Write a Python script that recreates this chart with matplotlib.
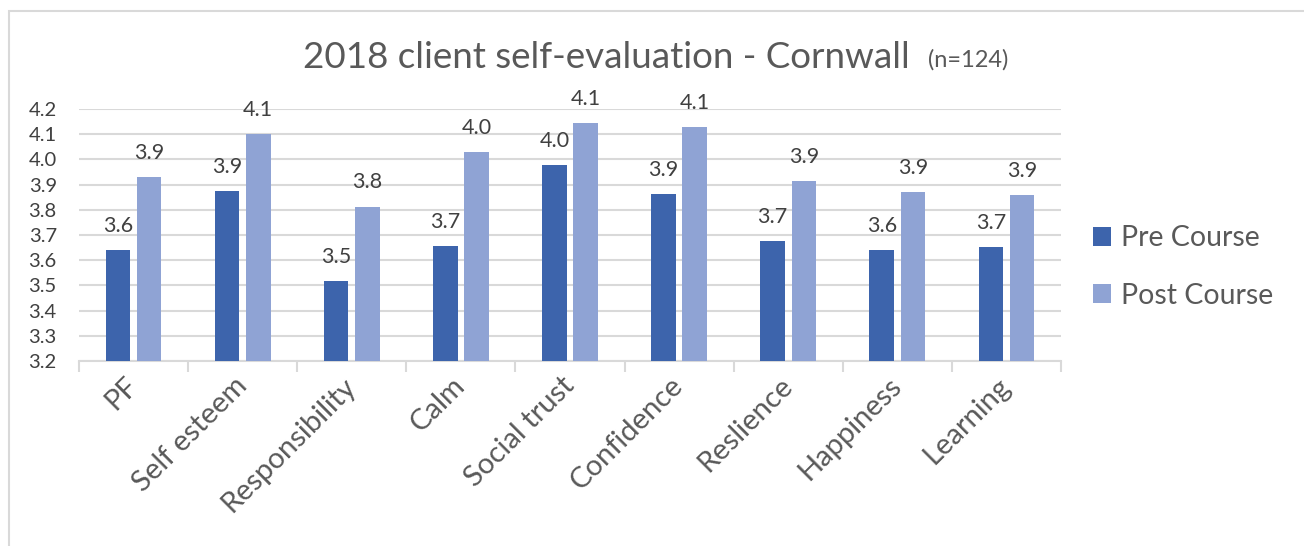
import matplotlib
matplotlib.use("Agg")
import matplotlib.pyplot as plt
import numpy as np
from matplotlib.patches import Rectangle

categories = ["PF", "Self esteem", "Responsibility", "Calm", "Social trust",
              "Confidence", "Reslience", "Happiness", "Learning"]
pre_course = [3.64, 3.874, 3.518, 3.656, 3.979, 3.864, 3.675, 3.641, 3.654]
post_course = [3.931, 4.102, 3.813, 4.028, 4.143, 4.130, 3.913, 3.872, 3.857]
y_ticks = [3.2, 3.3, 3.4, 3.5, 3.6, 3.7, 3.8, 3.9, 4.0, 4.1, 4.2]

plt.rcParams['font.family'] = ['Lato', 'DejaVu Sans']

W, H = 1304, 546
fig = plt.figure(figsize=(W / 100, H / 100), dpi=100)
ax = fig.add_axes([79 / W, 1 - 361 / H, (1061 - 79) / W, (361 - 109) / H])

pre_col = "#3D64AC"
post_col = "#8FA3D4"
grid_col = "#D9D9D9"
txt_dark = "#404040"
txt_gray = "#595959"

x = np.arange(len(categories))
bw = 0.225
off = 0.143
b1 = ax.bar(x - off, pre_course, bw, color=pre_col, label="Pre Course", zorder=3)
b2 = ax.bar(x + off, post_course, bw, color=post_col, label="Post Course", zorder=3)

for bars, vals in ((b1, pre_course), (b2, post_course)):
    for r, v in zip(bars, vals):
        ax.annotate(f"{v:.1f}", (r.get_x() + r.get_width() / 2, v),
                    xytext=(0, 13), textcoords="offset points",
                    ha="center", va="baseline", fontsize=15.5, color=txt_dark)

ax.set_ylim(3.2, 4.2)
ax.set_xlim(-0.5, len(categories) - 0.5)
ax.set_yticks(y_ticks)
ax.set_yticklabels([f"{t:.1f}" for t in y_ticks])
ax.tick_params(axis="y", length=0, pad=16, labelsize=14.5, labelcolor=txt_dark)
ax.yaxis.grid(True, color=grid_col, linewidth=1.5, zorder=0)

ax.set_xticks(x)
ax.set_xticklabels(categories, rotation=45, ha="right", va="center",
                   rotation_mode="anchor", fontsize=21, color=txt_gray)
ax.tick_params(axis="x", which="major", length=0, pad=15)
ax.set_xticks(np.arange(-0.5, len(categories)), minor=True)
ax.tick_params(axis="x", which="minor", length=8, width=1.5, color=grid_col,
               direction="out")

for s in ("top", "right", "left"):
    ax.spines[s].set_visible(False)
ax.spines["bottom"].set_color(grid_col)
ax.spines["bottom"].set_linewidth(1.5)

fig.text(910 / W, 1 - 57 / H, "2018 client self-evaluation - Cornwall",
         ha="right", va="center", fontsize=26.5, color=txt_gray)
fig.text(928 / W, 1 - 60 / H, "(n=124)", ha="left", va="center",
         fontsize=17, color=txt_gray)

leg = fig.legend(handles=[b1, b2], loc="center left",
                 bbox_to_anchor=(1067 / W, 1 - 267 / H), frameon=False,
                 fontsize=20.5, handlelength=0.65, handleheight=0.65,
                 handletextpad=0.35, labelspacing=1.1, labelcolor=txt_gray)

fig.patches.append(Rectangle((8.5 / W, -0.1), 1.2, 1.1 - 11.5 / H,
                             transform=fig.transFigure, fill=False,
                             edgecolor=grid_col, linewidth=1.5))

fig.savefig("out.png", dpi=100)
